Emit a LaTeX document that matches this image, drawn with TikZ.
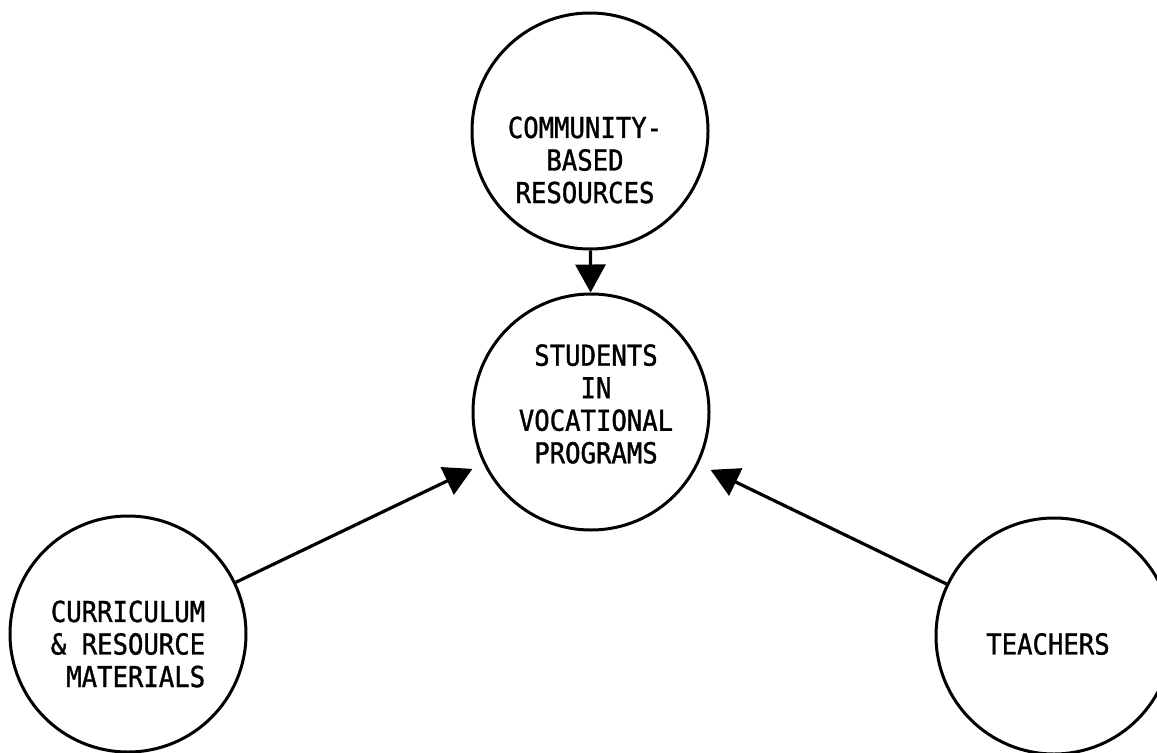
\documentclass[tikz,border=0pt]{standalone}
\usepackage{fontspec}
\newfontfamily\tagfont[FakeStretch=0.89,FakeBold=1.2]{DejaVu Sans Mono}
\usetikzlibrary{arrows.meta}

\begin{document}
\begin{tikzpicture}[x=0.75pt,y=-0.75pt,
    bubble/.style={draw,circle,line width=2.25pt,minimum size=177pt,inner sep=0pt},
    tag/.style={align=center,inner sep=0pt,
      font=\tagfont\fontsize{21.6}{24.4}\selectfont},
    link/.style={line width=2.4pt,-{Triangle[length=21pt,width=22.5pt]}}
  ]
  \useasboundingbox (0,0) rectangle (1157,753);
  \node[bubble,label={[tag,shift={(-5,29)}]center:{COMMUNITY-\\BASED\\RESOURCES}}]
    (com) at (590,131) {};
  \node[bubble,label={[tag,shift={(5,-8)}]center:{STUDENTS\\IN\\VOCATIONAL\\PROGRAMS}}]
    (stu) at (591,412) {};
  \node[bubble,label={[tag,align=left,shift={(0,10)}]center:{CURRICULUM\\\& RESOURCE\\\hphantom{M}MATERIALS}}]
    (cur) at (128,634) {};
  \node[bubble,label={[tag,shift={(-6,8)}]center:TEACHERS}]
    (tea) at (1054,636) {};
  % arrows into the students
  \draw[link] (com) -- (stu);
  \draw[link,shorten >=9pt] (cur) -- (stu);
  \draw[link,shorten >=10pt] (tea) -- (stu);
\end{tikzpicture}
\end{document}
